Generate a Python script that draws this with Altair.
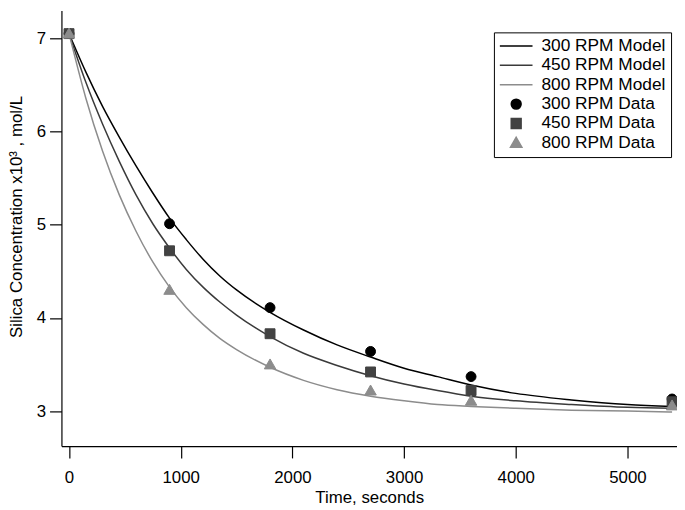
import altair as alt
import pandas as pd

# ---- data ----
t_model = [0, 150, 300, 450, 600, 750, 900, 1050, 1200, 1350, 1500, 1800, 2100,
           2400, 2700, 3000, 3300, 3600, 4000, 4500, 5000, 5400]
model_300 = [7.05, 6.64, 6.27, 5.94, 5.63, 5.34, 5.07, 4.84, 4.63, 4.45, 4.30, 4.06,
             3.87, 3.71, 3.58, 3.46, 3.37, 3.28, 3.19, 3.12, 3.07, 3.05]
model_450 = [7.05, 6.53, 6.08, 5.68, 5.32, 5.01, 4.75, 4.52, 4.33, 4.17, 4.03, 3.80,
             3.62, 3.49, 3.38, 3.29, 3.22, 3.16, 3.11, 3.07, 3.04, 3.03]
model_800 = [7.05, 6.36, 5.79, 5.32, 4.93, 4.60, 4.33, 4.11, 3.93, 3.78, 3.66, 3.47,
             3.33, 3.23, 3.16, 3.11, 3.07, 3.05, 3.03, 3.01, 3.00, 2.99]

t_data = [0, 900, 1800, 2700, 3600, 5400]
data_300 = [7.05, 5.01, 4.11, 3.64, 3.37, 3.13]
data_450 = [7.05, 4.72, 3.83, 3.42, 3.22, 3.10]
data_800 = [7.05, 4.30, 3.50, 3.22, 3.11, 3.06]

model_names = ["300 RPM Model", "450 RPM Model", "800 RPM Model"]
data_names = ["300 RPM Data", "450 RPM Data", "800 RPM Data"]
series_all = model_names + data_names
model_colors = ["#000000", "#3a3a3a", "#8c8c8c"]
data_colors = ["#000000", "#424242", "#8c8c8c"]
colors = model_colors + data_colors

# symbol shapes in the unit box (-1..1); drawn at size 1089 (33 px box)
LINE = "M-1,0L1,0"
CIRCLE = "M-0.303,0A0.303,0.303 0 1,0 0.303,0A0.303,0.303 0 1,0 -0.303,0Z"
SQUARE = "M-0.303,-0.303L0.303,-0.303L0.303,0.303L-0.303,0.303Z"
TRIANGLE = "M0,-0.34L0.35,0.27L-0.35,0.27Z"
shapes = [LINE, LINE, LINE, CIRCLE, SQUARE, TRIANGLE]

x_ticks = [0, 1000, 2000, 3000, 4000, 5000]
y_ticks = [3, 4, 5, 6, 7]

# ---- tables ----
model_rows = []
for name, vals in zip(model_names, [model_300, model_450, model_800]):
    for t, v in zip(t_model, vals):
        model_rows.append({"t": t, "c": v, "series": name})
model_df = pd.DataFrame(model_rows)

data_rows = []
for name, vals in zip(data_names, [data_300, data_450, data_800]):
    for t, v in zip(t_data, vals):
        data_rows.append({"t": t, "c": v, "series": name})
data_df = pd.DataFrame(data_rows)

FONT = "Liberation Sans"

xscale = alt.Scale(domain=[-68, 5444], nice=False, zero=False)
yscale = alt.Scale(domain=[2.625, 7.297], nice=False, zero=False)

legend = alt.Legend(
    title=None,
    orient="none",
    legendX=437,
    legendY=22,
    strokeColor="#000000",
    fillColor="#ffffff",
    padding=5,
    symbolSize=1089,
    symbolStrokeWidth=1.5,
    clipHeight=17.4,
    rowPadding=0.6,
    labelOffset=8,
    labelFont=FONT,
    labelFontSize=17.5,
    labelColor="#000000",
)

x_enc = alt.X(
    "t:Q", scale=xscale,
    axis=alt.Axis(title="Time, seconds", values=x_ticks, format="d",
                  tickSize=12, labelPadding=12, titlePadding=4),
)
y_enc = alt.Y(
    "c:Q", scale=yscale,
    axis=alt.Axis(title="Silica Concentration x10³ , mol/L", values=y_ticks, format="d",
                  tickSize=12, labelPadding=4, titlePadding=11, titleY=208),
)

lines = alt.Chart(model_df).mark_line(strokeWidth=1.5, interpolate="monotone").encode(
    x=x_enc,
    y=y_enc,
    color=alt.Color("series:N", scale=alt.Scale(domain=model_names, range=model_colors),
                    legend=None),
)

points = alt.Chart(data_df).mark_point(filled=False, size=1089, opacity=1, strokeWidth=1).encode(
    x=alt.X("t:Q", scale=xscale),
    y=alt.Y("c:Q", scale=yscale),
    stroke=alt.Stroke("series:N", scale=alt.Scale(domain=series_all, range=colors), legend=legend),
    fill=alt.Fill("series:N", scale=alt.Scale(domain=series_all, range=colors), legend=legend),
    shape=alt.Shape("series:N", scale=alt.Scale(domain=series_all, range=shapes), legend=legend),
)

chart = (
    alt.layer(lines, points)
    .properties(
        width=622,
        height=440,
        padding={"left": 54, "top": 0, "right": 0, "bottom": 62},
        autosize=alt.AutoSizeParams(type="none"),
    )
    .configure_view(stroke=None)
    .configure_axis(
        grid=False,
        domainColor="#000000",
        domainWidth=1.2,
        tickColor="#000000",
        tickWidth=1.2,
        labelColor="#000000",
        titleColor="#000000",
        labelFont=FONT,
        titleFont=FONT,
        labelFontSize=17,
        titleFontSize=17,
        titleFontWeight="normal",
    )
)

chart.save("out.html", embed_options={"renderer": "svg", "actions": False})
